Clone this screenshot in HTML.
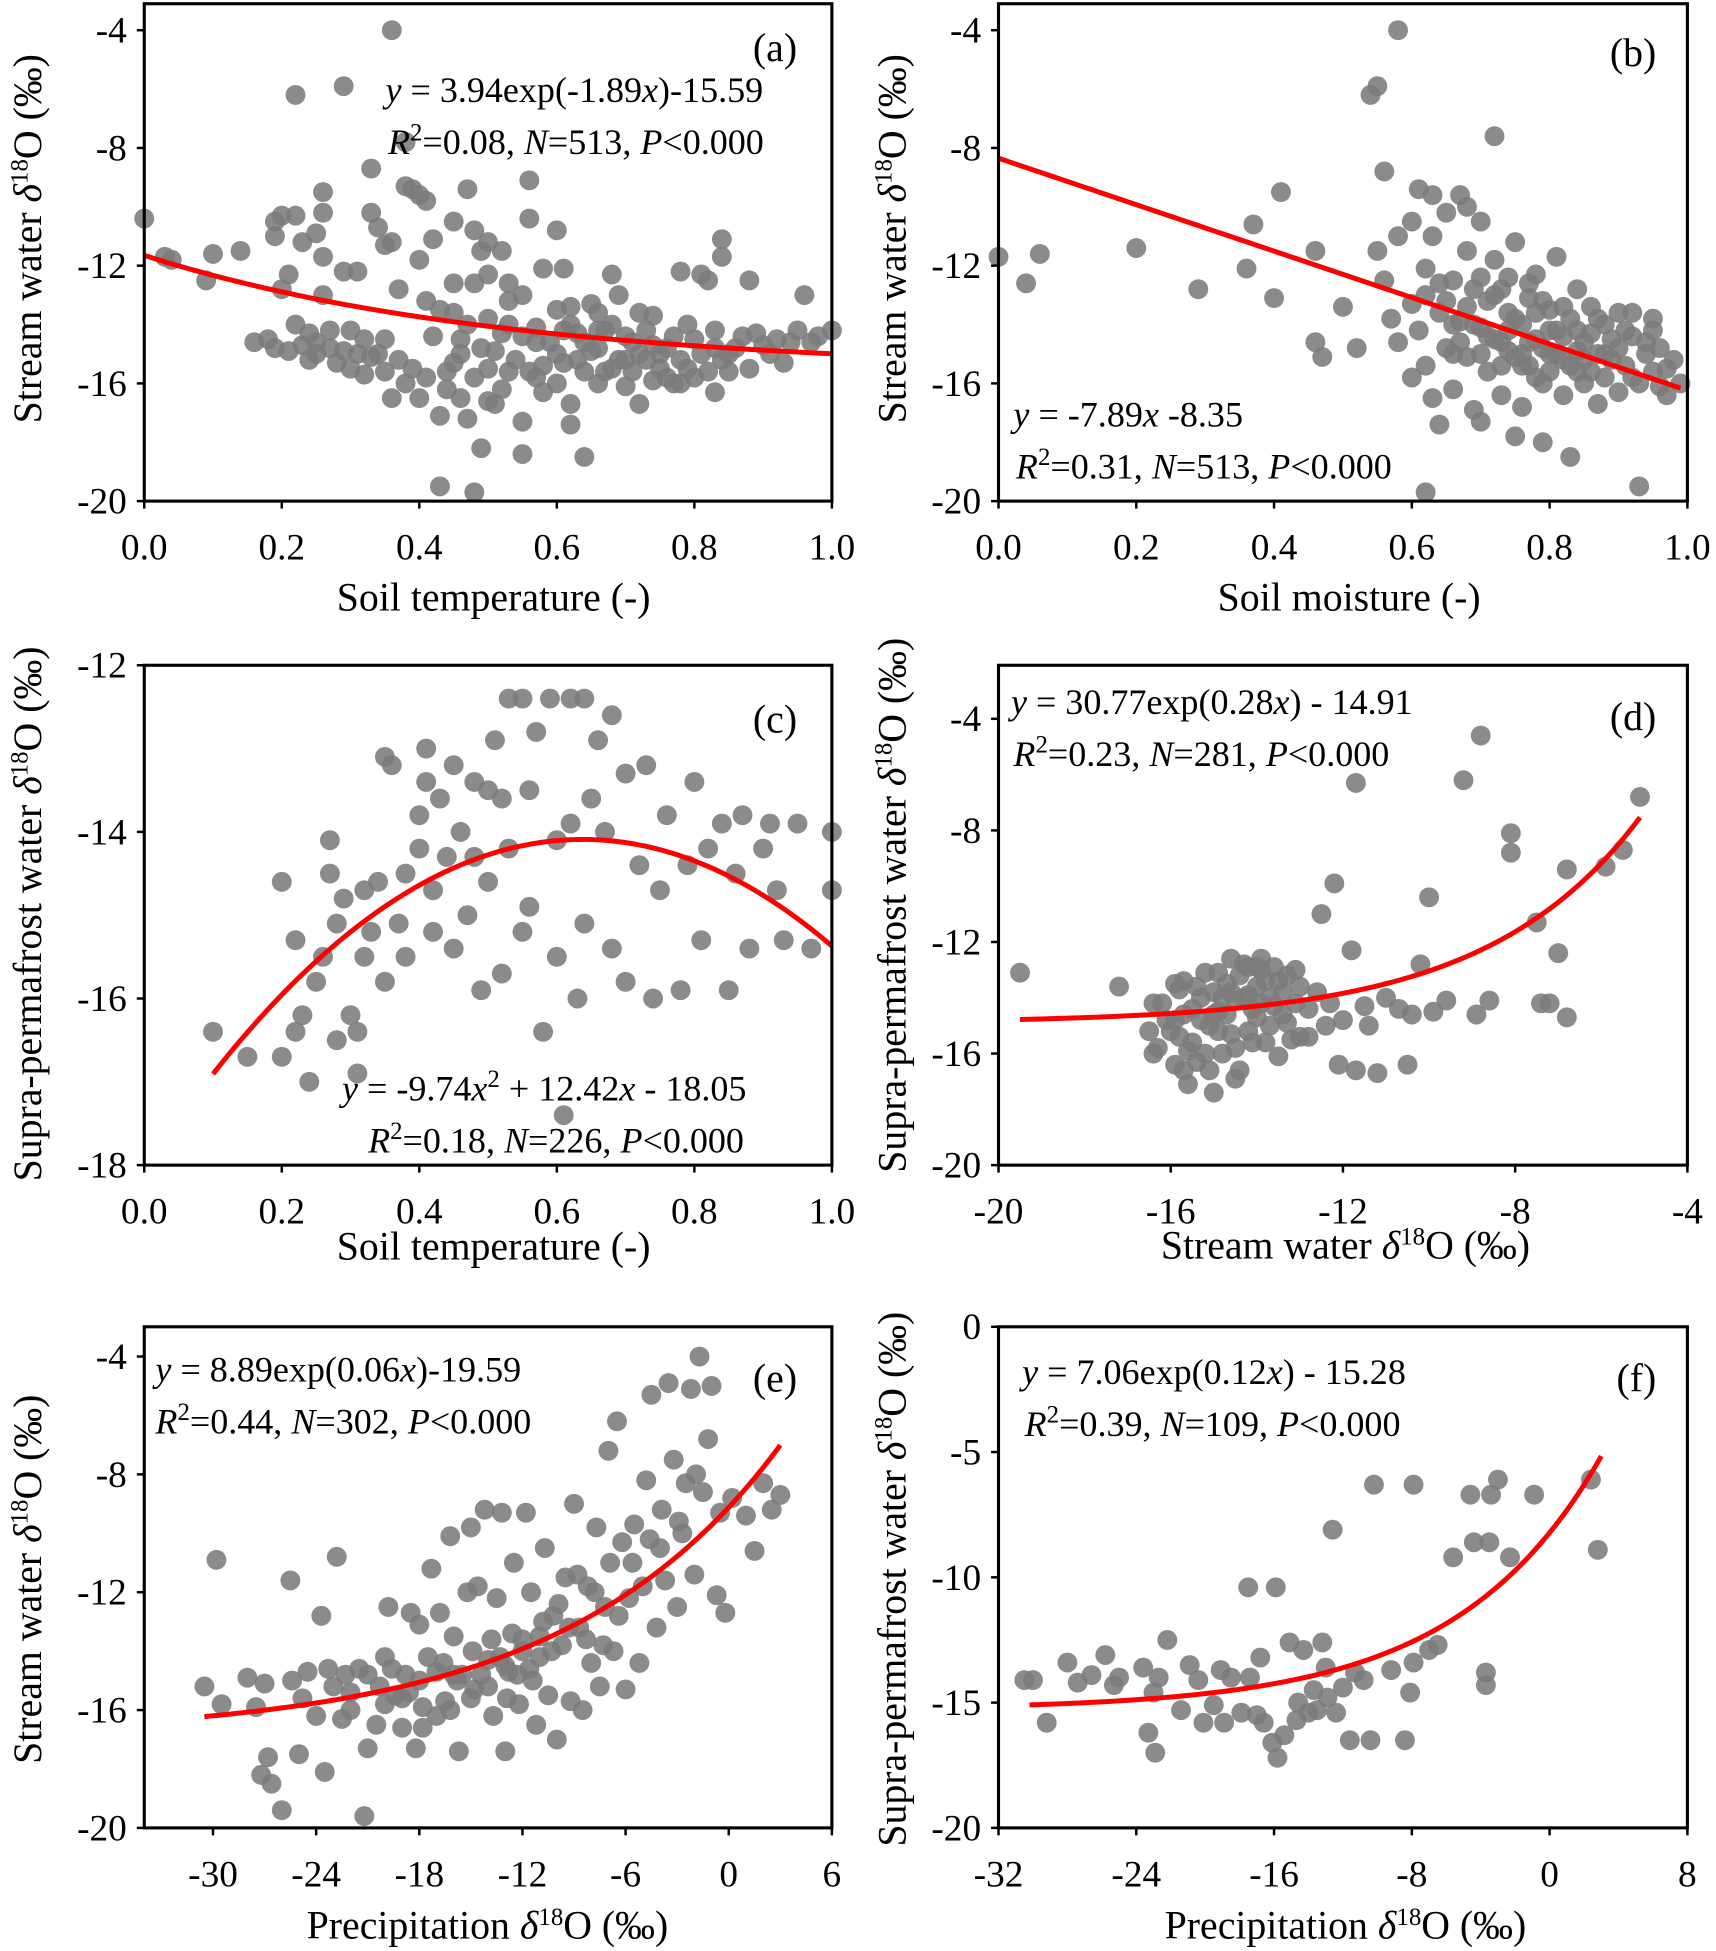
<!DOCTYPE html>
<html><head><meta charset="utf-8"><style>
html,body{margin:0;padding:0;background:#fff}
svg{display:block}
text{font-family:"Liberation Serif","DejaVu Serif",serif;fill:#000}
</style></head><body>
<svg id="fig" width="1716" height="1951" viewBox="0 0 1380 1569" xmlns="http://www.w3.org/2000/svg"></svg>
<script>
// ---- data (x, y) per panel ----
const ptsA=[[0,-10.4],[0.03,-11.7],[0.04,-11.8],[0.1,-11.6],[0.09,-12.5],[0.14,-11.5],[0.16,-14.6],[0.18,-14.5],[0.19,-10.5],[0.2,-10.3],[0.19,-11],[0.22,-6.2],[0.22,-10.3],[0.23,-11.2],[0.25,-10.9],[0.26,-9.5],[0.26,-10.2],[0.26,-11.7],[0.21,-12.3],[0.2,-12.8],[0.22,-14],[0.24,-14.3],[0.25,-15],[0.27,-14.8],[0.28,-15.3],[0.23,-14.7],[0.26,-13],[0.29,-5.9],[0.29,-12.2],[0.31,-12.2],[0.3,-14.2],[0.31,-15],[0.32,-14.5],[0.33,-8.7],[0.33,-10.2],[0.34,-10.7],[0.35,-11.3],[0.36,-4.0],[0.36,-11.2],[0.37,-12.8],[0.35,-14.5],[0.35,-15.6],[0.36,-16.5],[0.38,-9.3],[0.38,-7.8],[0.39,-9.4],[0.4,-9.6],[0.41,-9.8],[0.4,-11.8],[0.41,-13.2],[0.4,-16.5],[0.42,-11.1],[0.43,-13.5],[0.43,-17.1],[0.43,-19.5],[0.45,-10.5],[0.45,-12.6],[0.46,-14.5],[0.46,-16.5],[0.47,-9.4],[0.47,-17.2],[0.48,-10.8],[0.48,-19.7],[0.49,-11.5],[0.49,-18.2],[0.5,-12.3],[0.5,-13.8],[0.5,-15.5],[0.51,-16.7],[0.52,-11.5],[0.52,-14.3],[0.53,-15.6],[0.53,-12.6],[0.55,-17.3],[0.55,-18.4],[0.56,-9.1],[0.56,-10.4],[0.55,-13],[0.57,-14.6],[0.58,-15.4],[0.58,-12.1],[0.6,-10.8],[0.6,-13.5],[0.61,-14.2],[0.61,-12.1],[0.62,-16.7],[0.62,-17.4],[0.63,-15.2],[0.64,-14.6],[0.64,-18.5],[0.65,-13.3],[0.66,-16.0],[0.67,-14.2],[0.68,-12.3],[0.68,-15.5],[0.69,-13],[0.7,-14.4],[0.7,-16.1],[0.72,-15.0],[0.72,-16.7],[0.73,-14.2],[0.74,-13.7],[0.75,-15.5],[0.76,-14.8],[0.77,-16],[0.78,-12.2],[0.78,-15.2],[0.8,-14.5],[0.8,-15.8],[0.81,-12.3],[0.82,-12.5],[0.83,-14.8],[0.83,-16.3],[0.84,-11.7],[0.84,-11.1],[0.85,-15.0],[0.87,-14.4],[0.88,-12.5],[0.88,-15.5],[0.9,-14.7],[0.92,-14.5],[0.93,-15.3],[0.95,-14.2],[0.96,-13.0],[0.97,-14.6],[1.0,-14.2],[0.57,-15.8],[0.6,-15],[0.66,-14.8],[0.74,-15.9],[0.45,-15.3],[0.52,-16.2],[0.3,-15.5],[0.39,-15.5],[0.62,-14.0],[0.7,-15.2],[0.79,-14.0],[0.85,-15.6],[0.55,-14.4],[0.47,-14.0],[0.25,-14.6],[0.33,-15.1],
[0.19,-14.8],[0.21,-14.9],[0.24,-15.2],[0.27,-14.2],[0.29,-14.9],[0.32,-15.7],[0.34,-15.0],[0.37,-15.2],[0.38,-16.0],[0.41,-15.8],[0.42,-14.4],[0.44,-15.6],[0.46,-15.0],[0.48,-15.8],[0.49,-14.8],[0.51,-14.9],[0.53,-14.0],[0.54,-15.2],[0.56,-15.6],[0.57,-14.1],[0.59,-14.6],[0.6,-16.0],[0.61,-15.3],[0.63,-14.3],[0.64,-15.6],[0.65,-14.9],[0.66,-14.2],[0.67,-15.6],[0.68,-14.0],[0.69,-15.2],[0.71,-14.6],[0.71,-15.6],[0.73,-15.2],[0.74,-14.7],[0.75,-15.0],[0.76,-15.8],[0.77,-14.4],[0.78,-16.0],[0.79,-15.5],[0.81,-15.0],[0.82,-15.6],[0.83,-14.2],[0.84,-15.2],[0.86,-14.8],[0.89,-14.3],[0.91,-15.0],[0.94,-14.6],[0.98,-14.4],[0.5,-16.6],[0.44,-16.2],[0.58,-16.3],[0.66,-13.6],[0.72,-13.6],[0.62,-13.4],[0.53,-13.2],[0.45,-13.6],[0.48,-12.6],[0.5,-11.2]];
const ptsB=[[0,-11.7],[0.04,-12.6],[0.06,-11.6],[0.2,-11.4],[0.29,-12.8],[0.36,-12.1],[0.37,-10.6],[0.4,-13.1],[0.41,-9.5],[0.46,-11.5],[0.5,-13.4],[0.52,-14.8],[0.46,-14.6],[0.47,-15.1],[0.54,-6.2],[0.55,-5.9],[0.56,-8.8],[0.58,-4.0],[0.62,-19.7],[0.55,-11.5],[0.56,-12.5],[0.57,-13.8],[0.58,-11],[0.58,-14.6],[0.6,-10.5],[0.6,-13.3],[0.61,-9.4],[0.62,-12.1],[0.62,-15.4],[0.63,-11],[0.63,-16.5],[0.64,-13.6],[0.64,-17.4],[0.65,-10.2],[0.65,-14.8],[0.66,-12.5],[0.66,-16.2],[0.67,-9.6],[0.67,-13.9],[0.68,-11.5],[0.68,-15.1],[0.69,-12.8],[0.69,-16.9],[0.7,-10.5],[0.7,-14.1],[0.71,-13.2],[0.71,-15.6],[0.72,-11.8],[0.72,-7.6],[0.73,-14.6],[0.73,-16.4],[0.74,-12.4],[0.74,-13.6],[0.75,-15.1],[0.75,-11.2],[0.76,-14.0],[0.76,-16.8],[0.77,-13.1],[0.77,-15.4],[0.78,-12.3],[0.78,-14.5],[0.79,-16.0],[0.79,-18.0],[0.8,-13.5],[0.8,-15.0],[0.81,-14.2],[0.81,-11.7],[0.82,-16.4],[0.82,-15.2],[0.83,-13.8],[0.83,-18.5],[0.84,-14.9],[0.84,-12.8],[0.85,-16.0],[0.85,-15.2],[0.86,-14.3],[0.87,-16.7],[0.87,-13.8],[0.88,-15.0],[0.89,-14.5],[0.9,-16.3],[0.9,-13.6],[0.91,-15.4],[0.92,-14.4],[0.93,-16.0],[0.93,-19.5],[0.94,-15.0],[0.95,-14.2],[0.96,-16.1],[0.97,-15.5],[0.98,-15.2],[0.99,-16.0],[0.7,-17.3],[0.75,-17.8],[0.6,-15.8],[0.68,-10.0],[0.63,-9.6],[0.64,-12.6],[0.74,-14.9],[0.78,-15.8],[0.72,-14.5],[0.76,-15.0],[0.8,-14.2],[0.84,-15.6],[0.88,-14.0],[0.66,-14.0],
[0.65,-13.2],[0.67,-14.6],[0.69,-14.0],[0.7,-15.0],[0.71,-14.4],[0.72,-13.0],[0.73,-15.4],[0.74,-14.2],[0.75,-13.8],[0.76,-15.4],[0.77,-14.6],[0.78,-13.6],[0.79,-14.8],[0.8,-15.6],[0.81,-15.0],[0.82,-14.4],[0.83,-15.4],[0.84,-14.2],[0.85,-14.6],[0.86,-15.6],[0.87,-15.0],[0.88,-15.8],[0.89,-15.2],[0.9,-14.8],[0.91,-14.2],[0.92,-15.8],[0.94,-14.6],[0.95,-15.6],[0.96,-14.8],[0.97,-16.4],[0.62,-13.0],[0.61,-14.2],[0.66,-15.0],[0.68,-13.4],[0.7,-12.4],[0.73,-12.8],[0.77,-12.6],[0.79,-13.2],[0.82,-13.4],[0.86,-13.4],[0.92,-13.6],[0.95,-13.8]];
const ptsC=[[0.1,-16.4],[0.15,-16.7],[0.2,-14.6],[0.2,-16.7],[0.22,-15.3],[0.22,-16.4],[0.23,-16.2],[0.24,-17],[0.25,-15.8],[0.26,-15.5],[0.27,-14.1],[0.27,-14.5],[0.28,-15.1],[0.28,-16.5],[0.29,-14.8],[0.3,-16.2],[0.31,-16.9],[0.31,-16.4],[0.32,-15.5],[0.32,-14.7],[0.33,-15.2],[0.34,-14.6],[0.35,-13.1],[0.35,-15.8],[0.36,-13.2],[0.37,-15.1],[0.38,-15.5],[0.38,-14.5],[0.4,-14.2],[0.4,-13.8],[0.41,-13.4],[0.41,-13.0],[0.42,-14.7],[0.42,-15.2],[0.43,-13.6],[0.44,-14.3],[0.45,-15.4],[0.45,-13.2],[0.46,-14],[0.47,-15.0],[0.48,-13.4],[0.48,-14.3],[0.49,-15.9],[0.5,-13.5],[0.5,-14.6],[0.51,-12.9],[0.52,-13.6],[0.52,-15.7],[0.53,-12.4],[0.53,-14.2],[0.55,-12.4],[0.55,-15.2],[0.56,-14.9],[0.56,-13.5],[0.57,-12.8],[0.58,-16.4],[0.59,-12.4],[0.6,-14.1],[0.6,-15.5],[0.61,-17.4],[0.62,-12.4],[0.62,-13.9],[0.63,-16.0],[0.64,-12.4],[0.64,-15.1],[0.65,-13.6],[0.66,-12.9],[0.67,-14.0],[0.68,-12.6],[0.68,-15.4],[0.7,-13.3],[0.7,-15.8],[0.72,-14.4],[0.73,-13.2],[0.74,-16.0],[0.75,-14.7],[0.76,-13.8],[0.78,-15.9],[0.79,-14.4],[0.8,-13.4],[0.81,-15.3],[0.82,-14.2],[0.84,-13.9],[0.85,-15.9],[0.86,-14.5],[0.87,-13.8],[0.88,-15.4],[0.9,-14.2],[0.91,-13.9],[0.92,-14.7],[0.93,-15.3],[0.95,-13.9],[0.97,-15.4],[1.0,-14.0],[1.0,-14.7]];
const ptsD=[[-19.5,-13.1],[-17.2,-13.6],[-16.4,-14.2],[-12.2,-9.9],[-11.7,-6.3],[-12.5,-11.0],[-11.8,-12.3],[-10,-10.4],[-10.2,-12.8],[-9.2,-6.2],[-8.8,-4.6],[-8.1,-8.1],[-8.1,-8.8],[-7.5,-11.3],[-6.8,-9.4],[-5.9,-9.3],[-5.1,-6.8],[-5.5,-8.7],[-7.0,-12.4],[-7.4,-14.2],[-6.8,-14.7],[-7.2,-14.2],[-8.9,-14.6],[-8.6,-14.1],[-9.6,-14.1],[-10.5,-16.4],[-10.7,-14.4],[-11.2,-16.7],[-11.5,-14.3],[-11.7,-16.6],[-12.1,-16.4],[-12.4,-15.0],[-12.8,-14.4],[-13.1,-13.0],[-13.0,-15.4],[-16.3,-15.8],[-16.2,-14.2],[-16.0,-15.2],[-15.9,-16.4],[-15.8,-13.7],[-15.7,-14.6],[-15.6,-17.1],[-15.5,-15.6],[-15.4,-16.3],[-15.3,-14.0],[-15.2,-13.1],[-15.1,-15.0],[-15.0,-17.4],[-14.9,-14.5],[-14.8,-16.0],[-14.7,-13.5],[-14.6,-15.3],[-14.5,-14.1],[-14.4,-16.6],[-14.3,-12.8],[-14.2,-13.9],[-14.1,-15.6],[-14.0,-14.7],[-13.9,-12.6],[-13.8,-13.4],[-13.7,-15.0],[-13.6,-14.3],[-13.5,-16.1],[-13.4,-13.8],[-13.3,-14.9],[-13.2,-15.5],[-15.7,-13.4],[-15.0,-13.8],[-14.4,-13.2],[-14.8,-14.0],[-15.3,-14.8],[-14.0,-13.6],[-13.9,-14.2],[-15.6,-15.9],[-14.2,-15.2],[-16.4,-16.0],[-13.6,-12.9],[-14.6,-12.6],[-15.9,-14.8],[-12.6,-13.8],[-11.0,-14.0],[-9.9,-14.5],[-12.0,-14.8],
[-16.1,-14.8],[-15.8,-15.4],[-15.5,-14.4],[-15.2,-16.0],[-14.9,-15.2],[-14.7,-14.6],[-14.5,-15.8],[-14.3,-14.0],[-14.1,-14.4],[-13.9,-13.0],[-13.7,-14.0],[-13.5,-13.4],[-13.3,-13.2],[-13.1,-14.2],[-15.4,-13.6],[-15.0,-14.6],[-14.6,-13.8],[-14.2,-12.9],[-13.8,-15.6],[-16.5,-15.2],[-15.7,-16.6],[-15.1,-16.6],[-14.5,-16.9],[-13.4,-14.6],[-13.0,-13.6],[-12.8,-15.4],[-12.3,-14.2],[-11.4,-15.0],[-10.4,-14.6],[-15.9,-13.5],[-14.9,-13.1],[-14.0,-12.9]];
const ptsE=[[-30.5,-15.2],[-29.8,-10.9],[-29.5,-15.8],[-28,-14.9],[-27.5,-15.9],[-27.2,-18.2],[-26.8,-17.6],[-26.6,-18.5],[-27.0,-15.1],[-26.0,-19.4],[-25.5,-11.6],[-25.4,-15.0],[-25,-17.5],[-24.5,-14.7],[-24.0,-16.2],[-23.7,-12.8],[-23.5,-18.1],[-23.3,-14.6],[-22.8,-10.8],[-22.5,-16.3],[-22,-15.4],[-21.5,-14.6],[-21.2,-19.6],[-21,-17.3],[-20.5,-16.5],[-20.0,-14.2],[-19.8,-12.5],[-19.4,-15.5],[-19.0,-16.6],[-18.8,-14.8],[-18.5,-12.7],[-18.2,-17.3],[-18.0,-13.1],[-17.8,-15.9],[-17.3,-11.2],[-17.0,-14.7],[-16.8,-12.7],[-16.5,-15.7],[-16.2,-10.1],[-16.0,-13.5],[-15.7,-17.4],[-15.5,-14.8],[-15.2,-12.0],[-15.0,-9.8],[-14.8,-15.3],[-14.6,-11.8],[-14.2,-9.2],[-14.0,-14.3],[-13.7,-16.2],[-13.5,-12.2],[-13.2,-9.3],[-13.0,-17.4],[-12.8,-14.7],[-12.5,-11.0],[-12.2,-15.8],[-12.0,-13.6],[-11.8,-9.3],[-11.5,-12.0],[-11.2,-16.5],[-11.0,-14.2],[-10.7,-10.5],[-10.5,-15.5],[-10.2,-12.8],[-10.0,-17.0],[-9.7,-13.8],[-9.5,-11.5],[-9.2,-15.7],[-9.0,-9.0],[-8.7,-13.2],[-8.5,-16.0],[-8.2,-11.8],[-8.0,-14.4],[-7.7,-9.8],[-7.5,-15.2],[-7.2,-12.5],[-7.0,-7.2],[-6.7,-14.0],[-6.5,-6.2],[-6.2,-10.3],[-6.0,-15.3],[-5.8,-12.2],[-5.5,-9.7],[-5.2,-14.4],[-5.0,-11.8],[-4.8,-8.2],[-4.5,-5.3],[-4.2,-13.2],[-4.0,-10.5],[-3.7,-11.6],[-3.5,-4.9],[-3.2,-7.5],[-3.0,-12.5],[-2.7,-10.0],[-2.5,-8.3],[-2.2,-5.1],[-2.0,-11.4],[-1.7,-4.0],[-1.5,-8.6],[-1.2,-6.8],[-1.0,-5.0],[-0.7,-12.1],[-0.5,-9.3],[-0.2,-12.7],[0.2,-8.8],[1.0,-9.4],[2.0,-8.3],[2.5,-9.2],[3.0,-8.7],[1.5,-10.6],[-19,-15.6],[-17,-16.2],[-15,-15.6],[-13,-14.5],[-11,-13.5],[-20,-15.8],[-18,-15.0],[-16,-14.8],[-14,-15.2],[-12,-14.0],[-22,-16.0],
[-21.0,-14.8],[-20.3,-15.2],[-19.6,-14.6],[-18.6,-15.4],[-17.5,-14.2],[-16.6,-14.4],[-15.8,-15.0],[-14.9,-14.0],[-14.4,-14.8],[-13.8,-13.6],[-13.3,-14.2],[-12.6,-13.4],[-12.3,-14.8],[-11.6,-14.6],[-10.8,-13.0],[-10.3,-14.0],[-9.9,-12.4],[-9.3,-13.2],[-8.8,-11.4],[-8.3,-13.6],[-7.8,-12.0],[-7.3,-13.8],[-6.9,-11.0],[-6.4,-12.8],[-5.6,-11.0],[-4.6,-10.2],[-3.9,-9.2],[-2.9,-9.6],[-1.9,-8.0],[-24.8,-15.6],[-23.0,-15.2],[-22.3,-14.8],[-17.8,-16.6],[-16.2,-16.0],[-12.9,-15.6],[-11.4,-15.0]];
const ptsF=[[-30.5,-14.1],[-30,-14.1],[-29.2,-15.8],[-28,-13.4],[-27.4,-14.2],[-26.6,-13.9],[-25.8,-13.1],[-25.3,-14.3],[-25,-14],[-23.6,-13.6],[-23.3,-16.2],[-23,-14.6],[-22.9,-17],[-22.7,-14.0],[-22.2,-12.5],[-21.4,-15.3],[-20.9,-13.5],[-20.4,-14.1],[-20.1,-15.8],[-19.5,-15.1],[-19.1,-13.7],[-18.9,-15.8],[-18.5,-14],[-17.9,-15.4],[-17.4,-14.0],[-17.0,-15.5],[-16.8,-13.2],[-16.6,-15.8],[-16.1,-16.6],[-15.8,-17.2],[-15.4,-16.3],[-15.1,-12.6],[-14.7,-15.7],[-14.3,-12.9],[-14.0,-15.4],[-13.7,-14.5],[-13.2,-12.6],[-13.0,-13.6],[-12.6,-8.1],[-12.4,-15.4],[-12.0,-14.4],[-11.6,-16.5],[-11.3,-13.8],[-10.8,-14.1],[-10.4,-16.5],[-10.2,-6.3],[-9.2,-13.7],[-8.4,-16.5],[-8.1,-14.6],[-7.9,-13.4],[-7.9,-6.3],[-7.0,-12.9],[-6.5,-12.7],[-5.6,-9.2],[-4.6,-6.7],[-4.4,-8.6],[-3.7,-13.8],[-3.7,-14.3],[-3.5,-8.6],[-3.4,-6.7],[-3.0,-6.1],[-2.3,-9.2],[-0.9,-6.7],[2.4,-6.1],[2.8,-8.9],[-17.5,-10.4],[-15.9,-10.4],[-14.6,-15.0],[-13.5,-15.3],[-12.9,-14.8]];
// fit curve parameters
const fitA=[3.94,-1.89,-15.59]; // a*exp(b x)+c
const fitB=[-7.89,-8.35];       // slope, intercept
const fitC=[-9.74,12.42,-18.05];// quadratic
const fitD=[30.77,0.28,-14.91];
const fitE=[7.78,0.08,-16.9];
const fitF=[7.06,0.12,-15.28];
// ticks
const xTicksA=[0,0.2,0.4,0.6,0.8,1.0], xLabA=["0.0","0.2","0.4","0.6","0.8","1.0"];
const yTicksA=[-20,-16,-12,-8,-4];
const yTicksC=[-18,-16,-14,-12];
const xTicksD=[-20,-16,-12,-8,-4];
const xTicksE=[-30,-24,-18,-12,-6,0,6];
const xTicksF=[-32,-24,-16,-8,0,8];
const yTicksF=[-20,-15,-10,-5,0];

const NS="http://www.w3.org/2000/svg";
const svg=document.getElementById('fig');
function mk(tag,attrs,parent){const e=document.createElementNS(NS,tag);for(const k in attrs)e.setAttribute(k,attrs[k]);(parent||svg).appendChild(e);return e;}

function panel(p){
  const g=mk('g',{});
  
  
  const sx=v=>p.L+(v-p.x0)/(p.x1-p.x0)*(p.R-p.L);
  const sy=v=>p.B-(v-p.y0)/(p.y1-p.y0)*(p.B-p.T);
  const pg=mk('g',{fill:'#7b7b7b','fill-opacity':'0.88'},g);
  
  
  p.pts.forEach(d=>{const c=mk('circle',{cx:sx(d[0]),cy:sy(d[1]),r:8},pg);
    
    });
  let path='';const n=120;
  for(let i=0;i<=n;i++){const x=p.fx0+(p.fx1-p.fx0)*i/n;path+=(i?'L':'M')+sx(x).toFixed(2)+','+sy(p.f(x)).toFixed(2);}
  const cv=mk('path',{d:path,fill:'none',stroke:'#ff0000','stroke-width':4},g);
  
  
  const fr=mk('rect',{x:p.L,y:p.T,width:p.R-p.L,height:p.B-p.T,fill:'none',stroke:'#000','stroke-width':2.5},g);
  
  
  p.xt.forEach((v,i)=>{const x=sx(v);mk('line',{x1:x,x2:x,y1:p.B,y2:p.B+6,stroke:'#000','stroke-width':2},g);
    const t=mk('text',{x:x,y:p.B+47,'font-size':30,'text-anchor':'middle'},g);t.textContent=p.xl?p.xl[i]:String(v);
    
    });
  p.yt.forEach(v=>{const y=sy(v);mk('line',{x1:p.L-6,x2:p.L,y1:y,y2:y,stroke:'#000','stroke-width':2},g);
    const t=mk('text',{x:p.L-14,y:y+10,'font-size':30,'text-anchor':'end'},g);t.textContent=String(v);
    
    });
  const xt=mk('text',{x:p.xtx,y:p.xty,'font-size':32,'text-anchor':'middle'},g);xt.innerHTML=p.xtitle;
  
  
  const yt=mk('text',{x:0,y:0,'font-size':32,'text-anchor':'middle',transform:`translate(${p.ytx},${p.yty}) rotate(-90)`},g);yt.innerHTML=p.ytitle;
  
  
  const lb=mk('text',{x:p.lbx,y:p.lby,'font-size':32,'text-anchor':'end'},g);lb.textContent='('+p.id+')';
  
  
  const e1=mk('text',{x:p.ex,y:p.ey,'font-size':29},g);e1.innerHTML=p.eq;
  
  
  const e2=mk('text',{x:p.rx,y:p.ey+42,'font-size':29},g);e2.innerHTML=p.stats;
  
  
}
const sup=s=>`<tspan dy="-11" font-size="20">${s}</tspan><tspan dy="11">`;
const swY=`Stream water <tspan font-style="italic">δ</tspan>${sup('18')}O (‰)</tspan>`;
const spY=`Supra-permafrost water <tspan font-style="italic">δ</tspan>${sup('18')}O (‰)</tspan>`;
const st=(r,n)=>`<tspan font-style="italic">R</tspan>${sup('2')}=${r}, <tspan font-style="italic">N</tspan>=${n}, <tspan font-style="italic">P</tspan>&lt;0.000</tspan>`;
const ex=(a,b,c)=>x=>a*Math.exp(b*x)+c;

panel({id:'a',L:116,R:669,T:3,B:403,x0:0,x1:1,y0:-20,y1:-3.1,pts:ptsA,f:ex(...fitA),fx0:0,fx1:1,
  xt:xTicksA,xl:xLabA,yt:yTicksA,xtitle:'Soil temperature (-)',xtx:397,xty:491,ytitle:swY,ytx:33,yty:192,
  lbx:641,lby:49,eq:'<tspan font-style="italic">y</tspan> = 3.94exp(-1.89<tspan font-style="italic">x</tspan>)-15.59',ex:310,ey:82,rx:312,stats:st('0.08',513)});
panel({id:'b',L:803,R:1357,T:3,B:403,x0:0,x1:1,y0:-20,y1:-3.1,pts:ptsB,f:x=>fitB[0]*x+fitB[1],fx0:0,fx1:0.99,
  xt:xTicksA,xl:xLabA,yt:yTicksA,xtitle:'Soil moisture (-)',xtx:1085,xty:491,ytitle:swY,ytx:728,yty:192,
  lbx:1332,lby:53,eq:'<tspan font-style="italic">y</tspan> = -7.89<tspan font-style="italic">x</tspan> -8.35',ex:815,ey:343,rx:817,stats:st('0.31',513)});
panel({id:'c',L:116,R:669,T:535,B:937,x0:0,x1:1,y0:-18,y1:-12,pts:ptsC,f:x=>fitC[0]*x*x+fitC[1]*x+fitC[2],fx0:0.1,fx1:1,
  xt:xTicksA,xl:xLabA,yt:yTicksC,xtitle:'Soil temperature (-)',xtx:397,xty:1013,ytitle:spY,ytx:33,yty:735,
  lbx:641,lby:589,eq:'<tspan font-style="italic">y</tspan> = -9.74<tspan font-style="italic">x</tspan>'+sup('2')+' + 12.42<tspan font-style="italic">x</tspan> - 18.05</tspan>',ex:275,ey:885,rx:296,stats:st('0.18',226)});
panel({id:'d',L:803,R:1357,T:535,B:937,x0:-20,x1:-4,y0:-20,y1:-2.08,pts:ptsD,f:ex(...fitD),fx0:-19.5,fx1:-5.1,
  xt:xTicksD,yt:yTicksA,xtitle:'Stream water <tspan font-style="italic">δ</tspan>'+sup('18')+'O (‰)</tspan>',xtx:1082,xty:1012,ytitle:spY,ytx:728,yty:728,
  lbx:1332,lby:587,eq:'<tspan font-style="italic">y</tspan> = 30.77exp(0.28<tspan font-style="italic">x</tspan>) - 14.91',ex:813,ey:574,rx:815,stats:st('0.23',281)});
panel({id:'e',L:116,R:669,T:1067,B:1470,x0:-34,x1:6,y0:-20,y1:-2.99,pts:ptsE,f:ex(...fitE),fx0:-30.5,fx1:3,
  xt:xTicksE,yt:yTicksA,xtitle:'Precipitation <tspan font-style="italic">δ</tspan>'+sup('18')+'O (‰)</tspan>',xtx:392,xty:1559,ytitle:swY,ytx:33,yty:1270,
  lbx:641,lby:1119,eq:'<tspan font-style="italic">y</tspan> = 8.89exp(0.06<tspan font-style="italic">x</tspan>)-19.59',ex:125,ey:1111,rx:125,stats:st('0.44',302)});
panel({id:'f',L:803,R:1357,T:1067,B:1470,x0:-32,x1:8,y0:-20,y1:0,pts:ptsF,f:ex(...fitF),fx0:-30.2,fx1:3,
  xt:xTicksF,yt:yTicksF,xtitle:'Precipitation <tspan font-style="italic">δ</tspan>'+sup('18')+'O (‰)</tspan>',xtx:1082,xty:1559,ytitle:spY,ytx:728,yty:1270,
  lbx:1332,lby:1119,eq:'<tspan font-style="italic">y</tspan> = 7.06exp(0.12<tspan font-style="italic">x</tspan>) - 15.28',ex:822,ey:1113,rx:824,stats:st('0.39',109)});
</script>
</body></html>
